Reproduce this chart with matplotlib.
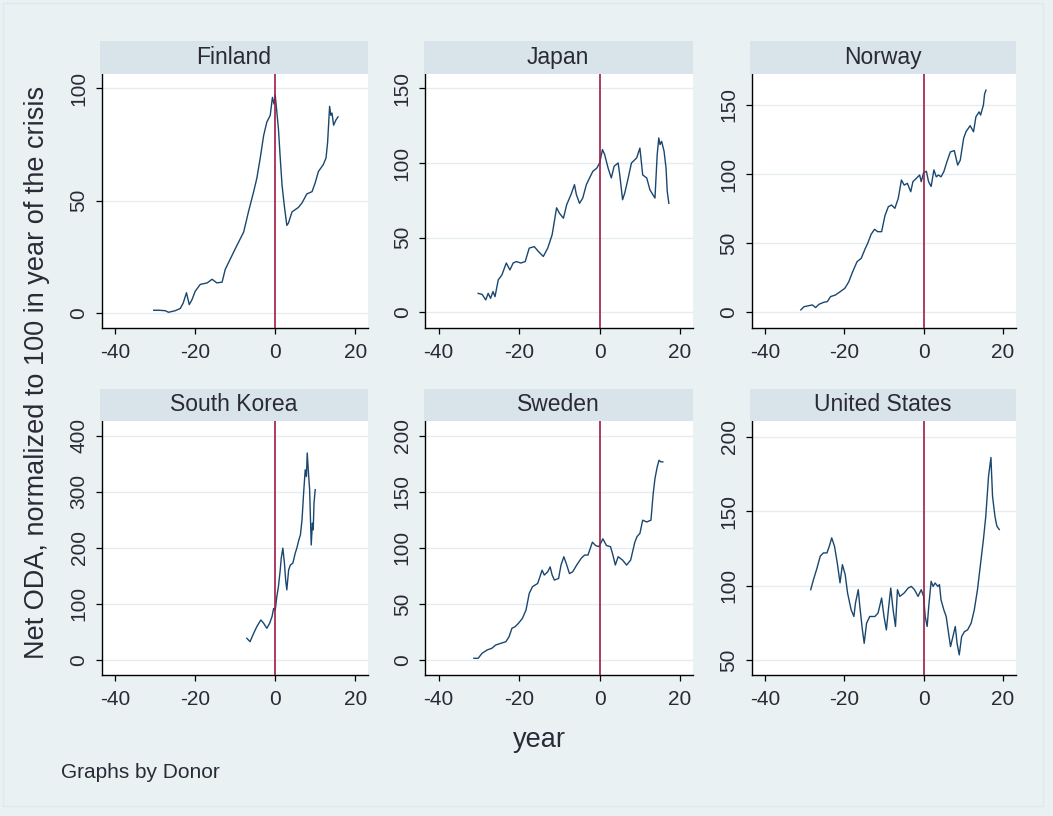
import matplotlib
matplotlib.use("Agg")
import matplotlib.pyplot as plt
from matplotlib.patches import Rectangle

# Net ODA per donor, normalized to 100 in the crisis year; (year relative to crisis, value)
finland = [(-30.4, 1.2), (-29, 1.2), (-27.5, 1.0), (-26.7, 0.3), (-25, 1.0), (-23.75, 2), (-23, 4.5),
           (-22.2, 9), (-21.5, 3.7), (-20.8, 6), (-20, 9.7), (-18.75, 12.7), (-17, 13.4), (-15.8, 15),
           (-14.6, 13.4), (-13.3, 13.7), (-12.5, 19.4), (-11.25, 24), (-9.6, 30), (-7.9, 36), (-6.7, 45),
           (-5.4, 54), (-4.6, 60), (-3.75, 69), (-2.9, 79), (-2.1, 85), (-1.25, 88), (-0.7, 96), (-0.3, 93),
           (0, 97), (0.4, 89.5), (0.8, 82), (1.25, 69), (1.7, 57), (2.25, 48), (2.9, 39), (3.3, 40),
           (4.2, 45), (5, 46), (5.8, 47), (6.7, 49), (7.9, 53), (9.2, 54), (10, 58), (10.8, 63), (12, 66),
           (12.7, 69), (13.1, 76), (13.6, 92), (13.9, 88), (14.2, 89), (14.6, 83.6), (15.2, 86), (15.7, 87.3)]

japan = [(-30.2, 12.7), (-29.2, 12), (-28.3, 8.3), (-27.7, 12.7), (-27.1, 9.4), (-26.5, 13.9), (-26, 10.5),
         (-25.2, 21.7), (-24.3, 25), (-23.2, 33), (-22.3, 28.4), (-21.5, 33), (-20.7, 34), (-19.6, 33),
         (-18.5, 34), (-17.5, 43), (-16.25, 44), (-15.2, 40.7), (-14, 37.4), (-12.9, 43), (-11.8, 52),
         (-10.7, 70), (-10, 66.4), (-9, 63), (-8.2, 72), (-7.1, 79), (-6.25, 85.5), (-5.8, 79), (-5, 73),
         (-4.2, 76.5), (-3.3, 85.5), (-2.5, 90), (-1.7, 94.4), (-0.7, 96.6), (0, 100), (0.7, 109),
         (1.25, 105.6), (2.1, 96.6), (2.9, 90), (3.6, 97.8), (4.6, 100), (5, 92), (5.7, 75.4), (6.25, 80),
         (7.1, 90), (7.9, 100), (9.2, 103.4), (10, 110), (10.7, 92), (11.7, 90), (12.5, 82), (13.75, 76.5),
         (14.3, 105.6), (14.7, 116.8), (15, 112.3), (15.4, 114.5), (16, 108), (16.5, 96.6), (16.8, 81),
         (17.2, 73)]

norway = [(-31, 1.7), (-30.2, 4), (-28.9, 4.8), (-28.1, 5.3), (-27.25, 3.4), (-26.4, 5.8), (-25.2, 7.2),
          (-24.3, 7.7), (-23.5, 11.3), (-22.25, 12.5), (-21, 15), (-19.9, 17.3), (-18.9, 22), (-17.9, 29.4),
          (-16.8, 36.6), (-15.75, 39), (-14.75, 46), (-14.1, 50), (-13.25, 56.4), (-12.4, 60), (-11.6, 58.3),
          (-10.6, 58.3), (-9.75, 70), (-8.9, 76.4), (-8.1, 77.6), (-7.25, 75.2), (-6.4, 82.4), (-5.6, 95.7),
          (-4.9, 92), (-4.1, 93.3), (-3.25, 87.2), (-2.7, 94.5), (-1.8, 97), (-1, 99.3), (-0.6, 94.5),
          (0, 101), (0.7, 102), (1.25, 94.5), (1.9, 91), (2.6, 103), (3.2, 98), (3.75, 99.3), (4.4, 98),
          (5.1, 101.7), (5.9, 109), (6.75, 116), (7.75, 117), (8.6, 106.5), (9.25, 110), (10.1, 125.8),
          (10.7, 130.6), (11.75, 135), (12.6, 130.6), (13.2, 141.4), (14, 145), (14.4, 142.7), (15.1, 150),
          (15.4, 158), (15.75, 160.7)]

south_korea = [(-7.1, 38.7), (-6.3, 32.7), (-5.4, 47.6), (-4.6, 59.5), (-3.6, 71.4), (-2.9, 65.5),
               (-2.1, 56.5), (-1.4, 65.5), (-0.8, 77.4), (-0.4, 92), (0, 89), (0.4, 113), (0.8, 131),
               (1.25, 160.7), (1.5, 181.5), (1.9, 199.4), (2.3, 172.6), (2.6, 143), (2.9, 125),
               (3.35, 160.7), (3.8, 169.6), (4.4, 172.6), (5, 190.5), (5.4, 199.4), (5.9, 214), (6.3, 223),
               (6.7, 250), (7.1, 297.6), (7.5, 339), (7.8, 327), (8, 369), (8.4, 324), (8.6, 303.6),
               (9, 205), (9.3, 244), (9.5, 232), (9.7, 280), (10, 303.6)]

sweden = [(-31.25, 1.5), (-30.2, 1.5), (-29.2, 6), (-27.9, 9), (-26.8, 10.4), (-25.8, 13.4), (-24.6, 14.8),
          (-23.3, 16.3), (-22.5, 20.8), (-21.8, 28.2), (-21, 29.7), (-20.2, 32.6), (-19.2, 37), (-18.3, 44.5),
          (-17.5, 59.3), (-16.7, 65.3), (-15.4, 68.2), (-14.3, 80), (-13.75, 75.7), (-12.9, 78.6),
          (-12.3, 83), (-11.8, 75.7), (-11.25, 71.2), (-10.2, 72.7), (-9.6, 84.6), (-8.9, 92), (-8.3, 86),
          (-7.5, 77), (-6.7, 78.6), (-5.7, 84.6), (-4.6, 90.5), (-3.75, 93.5), (-2.9, 93.5), (-1.8, 105),
          (-1, 102), (-0.2, 101), (0.4, 105), (0.8, 108), (1.7, 102), (2.7, 101), (3.3, 93.5), (3.9, 84.6),
          (4.6, 92), (5.7, 89), (6.7, 84.6), (7.7, 89), (8.75, 105), (9.3, 110), (10, 112.8), (10.7, 124.6),
          (11.7, 123), (12.75, 124.6), (13.3, 148), (13.75, 161.7), (14.3, 172), (14.75, 178),
          (15.2, 176.6), (15.7, 176.6)]

united_states = [(-28.5, 97.2), (-27.8, 104), (-26.9, 111.8), (-26.1, 119.7), (-25.3, 121.9), (-24.4, 121.9),
                 (-23.8, 126.4), (-23.2, 132), (-22.5, 126.4), (-21.8, 115.2), (-21.1, 101.8), (-20.5, 114),
                 (-19.8, 107.3), (-19.2, 95), (-18.3, 83.7), (-17.6, 79.2), (-17.2, 88.2), (-16.5, 97.2),
                 (-16.1, 86), (-15.5, 71.3), (-15, 61.2), (-14.4, 74.7), (-13.6, 79.2), (-12.3, 79.2),
                 (-11.5, 81.5), (-10.6, 91.6), (-10, 79.2), (-9.4, 70.2), (-8.8, 86), (-8.3, 98.3),
                 (-7.7, 83.7), (-7.1, 72.5), (-6.6, 97.2), (-6, 92.7), (-4.9, 95), (-3.9, 98.3), (-3.1, 99.4),
                 (-2.3, 97.2), (-1.4, 92.7), (-0.6, 97.2), (0, 92.7), (0.4, 79.2), (0.9, 72.5), (1.3, 86),
                 (1.9, 102.8), (2.4, 99.4), (2.9, 101.7), (3.6, 99.4), (4, 100.6), (4.4, 90.4), (5.1, 83.7),
                 (5.7, 79.2), (6.3, 68), (6.8, 59), (7.4, 65.7), (8, 72.5), (8.45, 61.2), (9, 53.4),
                 (9.6, 65.7), (10.3, 69), (11.1, 70.2), (12, 74.7), (12.8, 83.7), (13.6, 97.2), (14.5, 117.4),
                 (15.1, 130.9), (15.7, 146.6), (16.4, 173.6), (17, 186), (17.4, 160), (18, 146.6),
                 (18.5, 139.9), (19.1, 137.6)]

donors = ["Finland", "Japan", "Norway", "South Korea", "Sweden", "United States"]
series = [finland, japan, norway, south_korea, sweden, united_states]
x_ticks = [-40, -20, 0, 20]
y_ticks = [[0, 50, 100], [0, 50, 100, 150], [0, 50, 100, 150],
           [0, 100, 200, 300, 400], [0, 50, 100, 150, 200], [50, 100, 150, 200]]
y_limits = [(-6.7, 106.4), (-10.5, 159.6), (-11.4, 172.4),
            (-26.7, 426), (-13.4, 213), (39.9, 210.5)]
x_limits = (-43.4, 23.2)
crisis_year = 0

W, H = 1053, 816
BG = "#eaf1f3"
STRIP = "#d8e4ea"
LINE = "#1a476f"
XLINE = "#a01c45"
TEXT = "#2a2a36"

plt.rcParams["font.family"] = ["Liberation Sans", "DejaVu Sans"]

fig = plt.figure(figsize=(W / 100, H / 100), dpi=100, facecolor=BG)
fig.patches.append(Rectangle((3 / W, 10 / H), 1040 / W, 803 / H, transform=fig.transFigure,
                             facecolor="none", edgecolor="#dfe8ec", lw=1.0))

col_px = [(101.7, 368.0), (425.0, 693.0), (751.7, 1015.5)]
row_px = [(74.0, 328.0, 41.0), (421.0, 675.0, 388.5)]  # plot top, plot bottom, strip top


def px_box(x0, x1, ytop, ybot):
    return [x0 / W, 1 - ybot / H, (x1 - x0) / W, (ybot - ytop) / H]


for i, (name, data) in enumerate(zip(donors, series)):
    r, c = divmod(i, 3)
    x0, x1 = col_px[c]
    ptop, pbot, stop = row_px[r]

    ax = fig.add_axes(px_box(x0, x1, ptop, pbot), facecolor="white")
    years = [d[0] for d in data]
    vals = [d[1] for d in data]

    ax.set_xlim(*x_limits)
    ax.set_ylim(*y_limits[i])
    ax.set_xticks(x_ticks)
    ax.set_yticks(y_ticks[i])
    ax.set_xticklabels([str(t) for t in x_ticks])
    ax.set_yticklabels([str(t) for t in y_ticks[i]], rotation=90, va="center")

    for yt in y_ticks[i]:
        ax.axhline(yt, color="#e6edf0", lw=1.0, zorder=1)

    ax.plot(years, vals, color=LINE, lw=1.0, zorder=3)
    ax.axvline(crisis_year, color=XLINE, lw=1.2, zorder=4)

    for side in ("top", "right"):
        ax.spines[side].set_visible(False)
    for side in ("left", "bottom"):
        ax.spines[side].set_color("black")
        ax.spines[side].set_linewidth(1.0)

    ax.tick_params(axis="both", direction="out", length=4.5, width=0.9, color="black",
                   labelsize=15, labelcolor=TEXT)
    ax.tick_params(axis="x", pad=6)
    ax.tick_params(axis="y", pad=5)

    sax = fig.add_axes(px_box(x0 - 1.5, x1, stop, ptop), facecolor=STRIP)
    sax.set_xticks([])
    sax.set_yticks([])
    for sp in sax.spines.values():
        sp.set_visible(False)
    sax.text(0.5, 0.5, name, ha="center", va="center", fontsize=16.5, color=TEXT,
             transform=sax.transAxes)

fig.text(37 / W, 1 - 372 / H, "Net ODA, normalized to 100 in year of the crisis",
         rotation=90, ha="center", va="center", fontsize=19.5, color=TEXT)
fig.text(539 / W, 1 - 740 / H, "year", ha="center", va="center", fontsize=19.5, color=TEXT)
fig.text(61 / W, 1 - 773 / H, "Graphs by Donor", ha="left", va="center", fontsize=15, color=TEXT)

fig.savefig("out.png", dpi=100, facecolor=BG)
